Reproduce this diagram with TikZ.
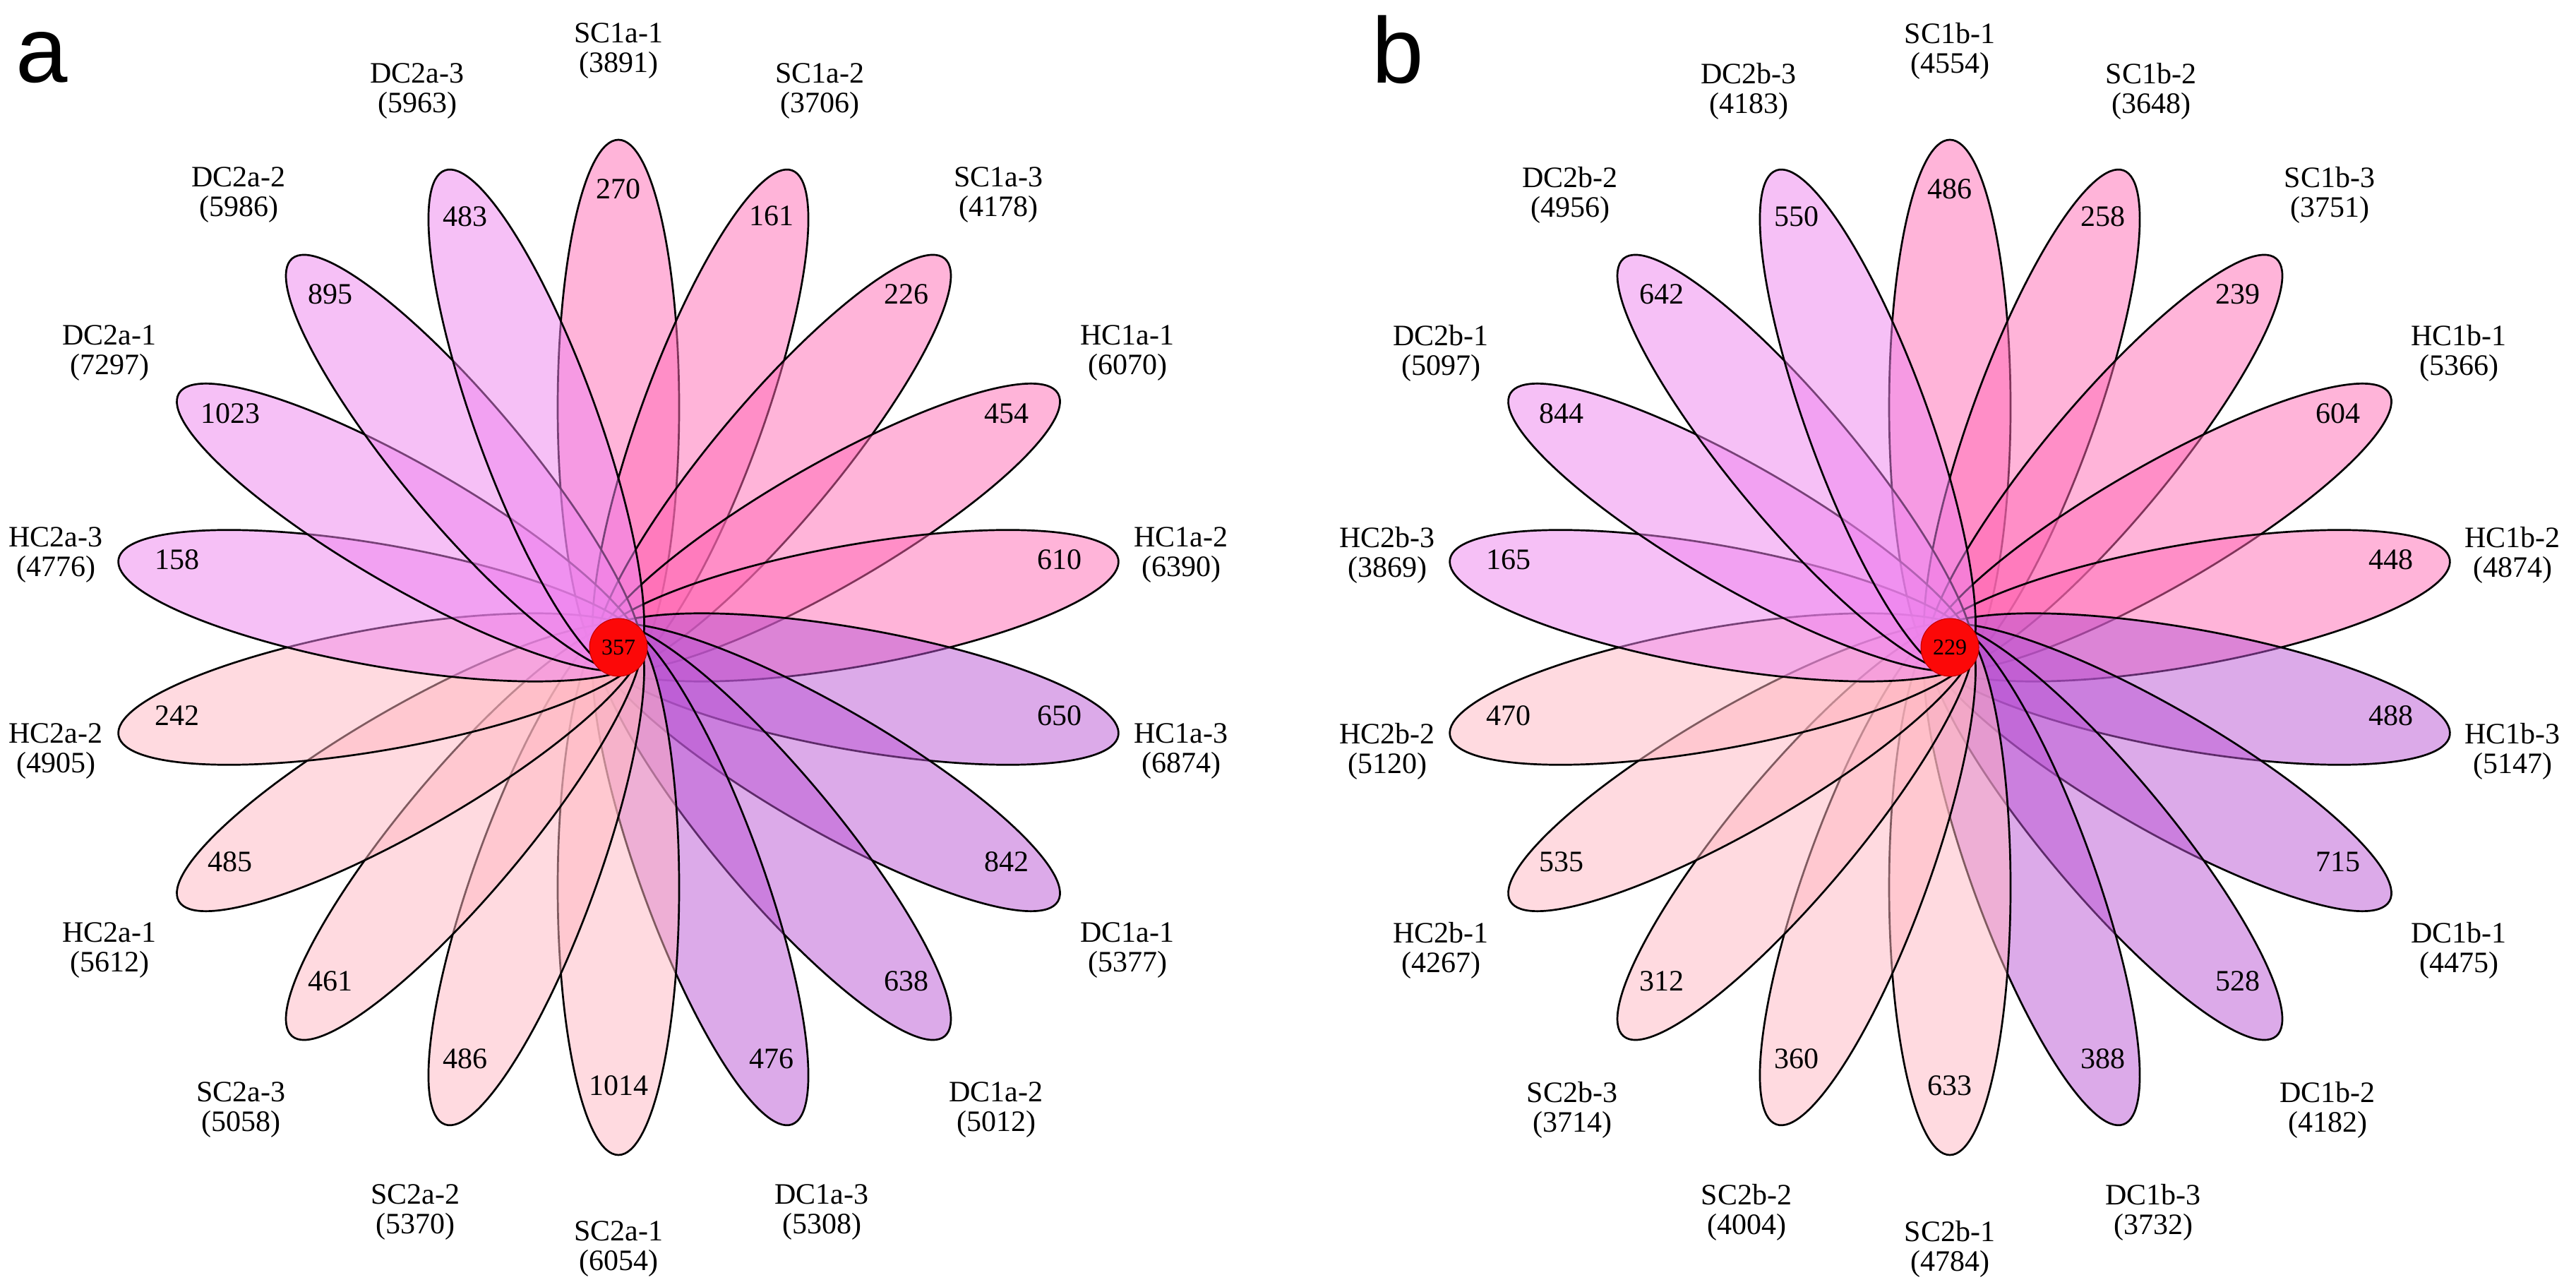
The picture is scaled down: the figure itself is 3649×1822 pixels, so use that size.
\documentclass[tikz,border=0pt]{standalone}
\usepackage{fontspec}
\setmainfont{Liberation Serif}
\newfontfamily\panelfont{Liberation Sans}
\definecolor{hp}{RGB}{255,105,180}
\definecolor{mo}{RGB}{186,85,211}
\definecolor{lp}{RGB}{255,182,193}
\definecolor{vi}{RGB}{238,130,238}
\definecolor{corered}{RGB}{252,8,8}
\definecolor{coreedge}{RGB}{190,0,0}
\begin{document}
\begin{tikzpicture}[x=0.5pt,y=0.5pt,
  petal/.style={draw=black, line width=1.35pt, fill opacity=0.5},
  cnt/.style={font=\fontsize{21}{21}\selectfont, inner sep=0pt},
  samp/.style={font=\fontsize{21}{21}\selectfont, align=center, inner sep=0pt},
  core/.style={circle, fill=corered, draw=coreedge, line width=0.5pt, minimum size=41pt, inner sep=0pt, font=\fontsize{16}{16}\selectfont},
  panel/.style={font=\panelfont\fontsize{66}{66}\selectfont, inner sep=0pt, anchor=base west}]
\useasboundingbox (0,0) rectangle (3649,1822);

% ---------------- panel a ----------------
\node[panel] (pa) at (22,1705) {a};
\begin{scope}[shift={(876,905)}]
  \foreach \k/\col in {1/hp,2/hp,3/hp,4/hp,5/hp,6/mo,7/mo,8/mo,9/mo,10/lp,11/lp,12/lp,13/lp,14/lp,15/vi,16/vi,17/vi,18/vi}{
    \pgfmathsetmacro\ang{90-20*(\k-1)}
    \filldraw[petal, fill=\col, rotate=\ang] (340,0) ellipse [x radius=379, y radius=86];
  }
  \foreach \k/\name/\tot/\num/\lx/\ly in {
    1/SC1a-1/3891/270/0/845,
    2/SC1a-2/3706/161/285/788,
    3/SC1a-3/4178/226/538/641,
    4/HC1a-1/6070/454/721/417,
    5/HC1a-2/6390/610/797/131,
    6/HC1a-3/6874/650/797/-147,
    7/DC1a-1/5377/842/721/-429,
    8/DC1a-2/5012/638/535/-655,
    9/DC1a-3/5308/476/288/-800,
    10/SC2a-1/6054/1014/0/-852,
    11/SC2a-2/5370/486/-288/-800,
    12/SC2a-3/5058/461/-535/-655,
    13/HC2a-1/5612/485/-721/-429,
    14/HC2a-2/4905/242/-797/-147,
    15/HC2a-3/4776/158/-797/131,
    16/DC2a-1/7297/1023/-721/417,
    17/DC2a-2/5986/895/-538/641,
    18/DC2a-3/5963/483/-285/788}{
    \pgfmathsetmacro\ang{90-20*(\k-1)}
    \node[cnt] (na\k) at ({635*cos(\ang)},{635*sin(\ang)+14}) {\num};
    \node[samp] (sa\k) at (\lx,\ly) {\name\\(\tot)};
  }
  \node[core] (ca) at (0,0) {357};
\end{scope}

% ---------------- panel b ----------------
\node[panel] (pb) at (1943,1704) {b};
\begin{scope}[shift={(2762,905)}]
  \foreach \k/\col in {1/hp,2/hp,3/hp,4/hp,5/hp,6/mo,7/mo,8/mo,9/mo,10/lp,11/lp,12/lp,13/lp,14/lp,15/vi,16/vi,17/vi,18/vi}{
    \pgfmathsetmacro\ang{90-20*(\k-1)}
    \filldraw[petal, fill=\col, rotate=\ang] (340,0) ellipse [x radius=379, y radius=86];
  }
  \foreach \k/\name/\tot/\num/\lx/\ly in {
    1/SC1b-1/4554/486/0/845,
    2/SC1b-2/3648/258/285/788,
    3/SC1b-3/3751/239/538/641,
    4/HC1b-1/5366/604/721/417,
    5/HC1b-2/4874/448/797/131,
    6/HC1b-3/5147/488/797/-147,
    7/DC1b-1/4475/715/721/-429,
    8/DC1b-2/4182/528/535/-655,
    9/DC1b-3/3732/388/288/-800,
    10/SC2b-1/4784/633/0/-852,
    11/SC2b-2/4004/360/-288/-800,
    12/SC2b-3/3714/312/-535/-655,
    13/HC2b-1/4267/535/-721/-429,
    14/HC2b-2/5120/470/-797/-147,
    15/HC2b-3/3869/165/-797/131,
    16/DC2b-1/5097/844/-721/417,
    17/DC2b-2/4956/642/-538/641,
    18/DC2b-3/4183/550/-285/788}{
    \pgfmathsetmacro\ang{90-20*(\k-1)}
    \node[cnt] (nb\k) at ({635*cos(\ang)},{635*sin(\ang)+14}) {\num};
    \node[samp] (sb\k) at (\lx,\ly) {\name\\(\tot)};
  }
  \node[core] (cb) at (0,0) {229};
\end{scope}
\end{tikzpicture}
\end{document}
